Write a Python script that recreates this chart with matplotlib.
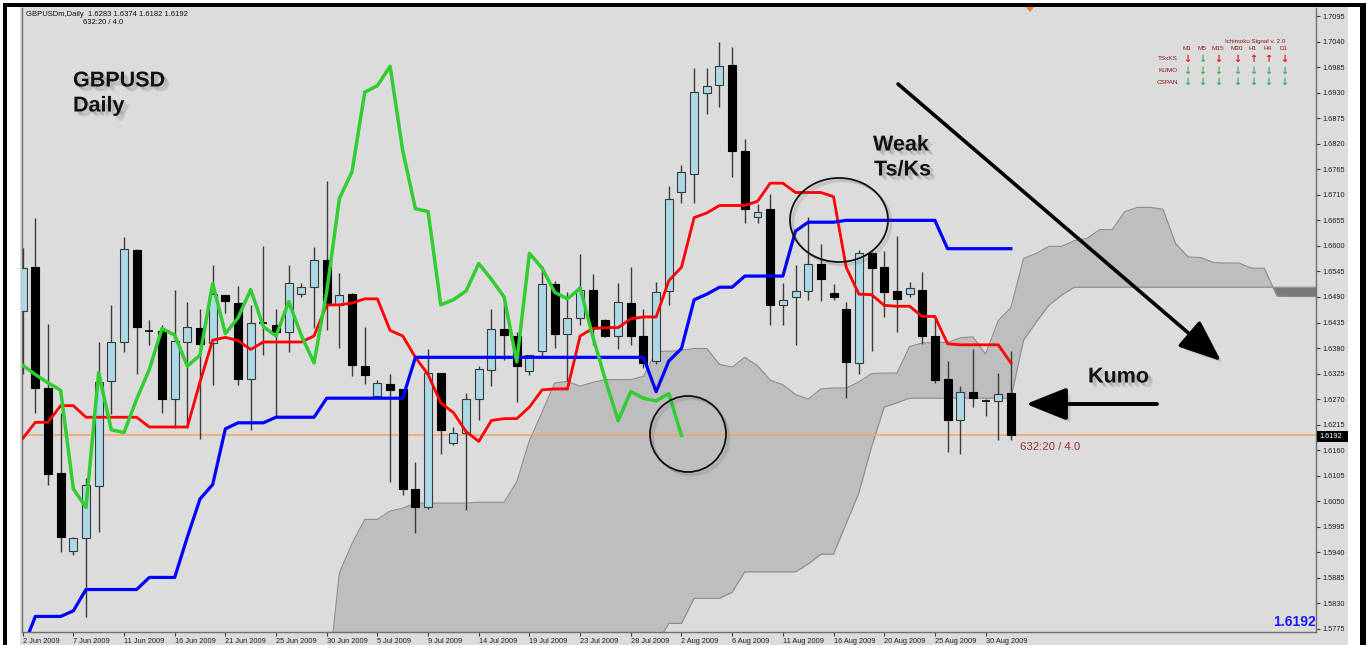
import numpy as np
import matplotlib.pyplot as plt
from matplotlib import patheffects as pe
from matplotlib.patches import Rectangle, Ellipse, Polygon

W, H = 1367, 645

# daily GBPUSD bars, 2 Jun 2009 .. 1 Sep 2009 (index 0..78)
opens = [1.6460, 1.6554, 1.6294, 1.6111, 1.5944, 1.5971, 1.6083, 1.6309, 1.6393, 1.6591,
         1.6416, 1.6416, 1.6271, 1.6393, 1.6423, 1.6391, 1.6494, 1.6477, 1.6313, 1.6434,
         1.6430, 1.6415, 1.6496, 1.6511, 1.6570, 1.6473, 1.6496, 1.6342, 1.6277, 1.6303,
         1.6292, 1.6077, 1.6037, 1.6327, 1.6175, 1.6196, 1.6270, 1.6333, 1.6420, 1.6406,
         1.6331, 1.6373, 1.6519, 1.6410, 1.6444, 1.6506, 1.6440, 1.6406, 1.6477, 1.6406,
         1.6352, 1.6502, 1.6715, 1.6754, 1.6929, 1.6947, 1.6989, 1.6805, 1.6663, 1.6679,
         1.6473, 1.6490, 1.6502, 1.6561, 1.6498, 1.6465, 1.6348, 1.6584, 1.6554, 1.6502,
         1.6496, 1.6506, 1.6405, 1.6313, 1.6226, 1.6286, 1.6266, 1.6266, 1.6283]
highs = [1.6595, 1.6661, 1.6432, 1.6240, 1.5973, 1.6100, 1.6393, 1.6473, 1.6619, 1.6593,
         1.6440, 1.6430, 1.6505, 1.6479, 1.6464, 1.6559, 1.6494, 1.6514, 1.6472, 1.6600,
         1.6464, 1.6559, 1.6520, 1.6598, 1.6740, 1.6542, 1.6498, 1.6426, 1.6311, 1.6325,
         1.6292, 1.6134, 1.6378, 1.6327, 1.6210, 1.6284, 1.6341, 1.6465, 1.6478, 1.6415,
         1.6366, 1.6556, 1.6525, 1.6501, 1.6583, 1.6539, 1.6443, 1.6521, 1.6554, 1.6465,
         1.6523, 1.6729, 1.6775, 1.6984, 1.6984, 1.7039, 1.7028, 1.6830, 1.6690, 1.6712,
         1.6521, 1.6558, 1.6663, 1.6605, 1.6517, 1.6480, 1.6591, 1.6587, 1.6589, 1.6622,
         1.6523, 1.6544, 1.6445, 1.6352, 1.6299, 1.6379, 1.6270, 1.6327, 1.6374]
lows = [1.6324, 1.6241, 1.6085, 1.5941, 1.5934, 1.5801, 1.5984, 1.6237, 1.6372, 1.6324,
        1.6386, 1.6240, 1.6208, 1.6208, 1.6184, 1.6300, 1.6455, 1.6300, 1.6204, 1.6365,
        1.6232, 1.6372, 1.6490, 1.6423, 1.6419, 1.6380, 1.6320, 1.6303, 1.6275, 1.6092,
        1.6064, 1.5982, 1.6034, 1.6152, 1.6171, 1.6031, 1.6226, 1.6298, 1.6354, 1.6264,
        1.6322, 1.6363, 1.6381, 1.6308, 1.6430, 1.6387, 1.6404, 1.6379, 1.6387, 1.6337,
        1.6346, 1.6472, 1.6692, 1.6692, 1.6885, 1.6899, 1.6748, 1.6649, 1.6649, 1.6429,
        1.6429, 1.6387, 1.6484, 1.6481, 1.6484, 1.6272, 1.6325, 1.6373, 1.6447, 1.6415,
        1.6491, 1.6389, 1.6305, 1.6157, 1.6152, 1.6253, 1.6234, 1.6182, 1.6182]
closes = [1.6552, 1.6294, 1.6109, 1.5973, 1.5970, 1.6085, 1.6307, 1.6393, 1.6593, 1.6425,
          1.6416, 1.6271, 1.6395, 1.6425, 1.6389, 1.6496, 1.6481, 1.6313, 1.6434, 1.6434,
          1.6415, 1.6520, 1.6511, 1.6570, 1.6473, 1.6494, 1.6343, 1.6323, 1.6305, 1.6289,
          1.6077, 1.6037, 1.6327, 1.6204, 1.6198, 1.6270, 1.6334, 1.6422, 1.6408, 1.6341,
          1.6365, 1.6519, 1.6411, 1.6445, 1.6506, 1.6426, 1.6406, 1.6480, 1.6407, 1.6348,
          1.6501, 1.6702, 1.6760, 1.6931, 1.6945, 1.6987, 1.6805, 1.6680, 1.6674, 1.6473,
          1.6484, 1.6503, 1.6562, 1.6528, 1.6490, 1.6350, 1.6584, 1.6552, 1.6500, 1.6486,
          1.6509, 1.6405, 1.6311, 1.6224, 1.6286, 1.6272, 1.6266, 1.6282, 1.6192]

tenkan = [1.6185, 1.6220, 1.6220, 1.6256, 1.6256, 1.6231, 1.6231, 1.6231, 1.6231, 1.6231,
          1.6210, 1.6210, 1.6210, 1.6210, 1.6307, 1.6397, 1.6403, 1.6396, 1.6377, 1.6393,
          1.6393, 1.6393, 1.6393, 1.6406, 1.6473, 1.6473, 1.6477, 1.6486, 1.6486, 1.6418,
          1.6406, 1.6360, 1.6323, 1.6262, 1.6241, 1.6200, 1.6179, 1.6224, 1.6228, 1.6228,
          1.6253, 1.6290, 1.6292, 1.6292, 1.6406, 1.6422, 1.6424, 1.6424, 1.6443, 1.6447,
          1.6447, 1.6525, 1.6554, 1.6661, 1.6671, 1.6687, 1.6687, 1.6687, 1.6696, 1.6735,
          1.6735, 1.6715, 1.6715, 1.6715, 1.6706, 1.6554, 1.6496, 1.6495, 1.6472, 1.6470,
          1.6470, 1.6448, 1.6448, 1.6389, 1.6387, 1.6387, 1.6387, 1.6387, 1.6348]
kijun = [1.5732, 1.5802, 1.5802, 1.5802, 1.5814, 1.5860, 1.5860, 1.5860, 1.5860, 1.5860,
         1.5886, 1.5886, 1.5886, 1.5973, 1.6055, 1.6086, 1.6206, 1.6219, 1.6219, 1.6219,
         1.6231, 1.6231, 1.6231, 1.6231, 1.6272, 1.6272, 1.6272, 1.6272, 1.6272, 1.6272,
         1.6272, 1.6360, 1.6360, 1.6360, 1.6360, 1.6360, 1.6360, 1.6360, 1.6360, 1.6360,
         1.6360, 1.6360, 1.6360, 1.6360, 1.6360, 1.6360, 1.6360, 1.6360, 1.6360, 1.6360,
         1.6286, 1.6352, 1.6379, 1.6484, 1.6496, 1.6511, 1.6511, 1.6535, 1.6535, 1.6535,
         1.6535, 1.6632, 1.6651, 1.6651, 1.6651, 1.6655, 1.6655, 1.6655, 1.6655, 1.6655,
         1.6655, 1.6655, 1.6655, 1.6594, 1.6594, 1.6594, 1.6594, 1.6594, 1.6594]

# cloud, bar index 24..104 (already shifted 26 bars ahead)
span_a = [1.5640, 1.5896, 1.5959, 1.6011, 1.6011, 1.6029, 1.6035, 1.6046, 1.6046, 1.6046,
          1.6046, 1.6046, 1.6048, 1.6048, 1.6048, 1.6092, 1.6181, 1.6242, 1.6305, 1.6308,
          1.6298, 1.6306, 1.6312, 1.6312, 1.6312, 1.6319, 1.6373, 1.6373, 1.6375, 1.6379,
          1.6379, 1.6345, 1.6339, 1.6360, 1.6342, 1.6311, 1.6301, 1.6280, 1.6270, 1.6292,
          1.6294, 1.6294, 1.6307, 1.6325, 1.6326, 1.6326, 1.6383, 1.6391, 1.6392, 1.6392,
          1.6402, 1.6404, 1.6367, 1.6439, 1.6467, 1.6573, 1.6584, 1.6599, 1.6599, 1.6611,
          1.6616, 1.6635, 1.6635, 1.6674, 1.6683, 1.6683, 1.6679, 1.6605, 1.6576, 1.6575,
          1.6564, 1.6563, 1.6563, 1.6552, 1.6552, 1.6492, 1.6491, 1.6491, 1.6491, 1.6491,
          1.6471]
span_b = [1.5600] * 26 + [
          1.5741, 1.5787, 1.5787, 1.5841, 1.5841, 1.5841, 1.5854, 1.5898, 1.5898, 1.5898,
          1.5898, 1.5898, 1.5915, 1.5936, 1.5936, 1.6002, 1.6068, 1.6167, 1.6253, 1.6262,
          1.6272, 1.6272, 1.6272, 1.6272, 1.6272, 1.6272, 1.6272, 1.6272, 1.6272, 1.6397,
          1.6436, 1.6472, 1.6494] + [1.6511] * 22

date_ticks = ['2 Jun 2009', '7 Jun 2009', '11 Jun 2009', '16 Jun 2009', '21 Jun 2009',
              '25 Jun 2009', '30 Jun 2009', '5 Jul 2009', '9 Jul 2009', '14 Jul 2009',
              '19 Jul 2009', '23 Jul 2009', '28 Jul 2009', '2 Aug 2009', '6 Aug 2009',
              '11 Aug 2009', '16 Aug 2009', '20 Aug 2009', '25 Aug 2009', '30 Aug 2009']

signal_cols = ['M1', 'M5', 'M15', 'M30', 'H1', 'H4', 'D1']
signal_rows = ['TSxKS', 'KUMO', 'CSPAN']
signal_dirs = [['dr', 'dg', 'dr', 'dr', 'ur', 'ur', 'dr'],
               ['dg'] * 7,
               ['dg'] * 7]

o, h, l, c = map(np.array, (opens, highs, lows, closes))
idx = np.arange(len(c))
cloud_x = np.arange(24, 24 + len(span_a))
sa, sb = np.array(span_a), np.array(span_b)

fig = plt.figure(figsize=(W / 100, H / 100), dpi=100, facecolor='white')

# background frame (pixel coords)
bg = fig.add_axes([0, 0, 1, 1], zorder=-5)
bg.set_xlim(0, W)
bg.set_ylim(H, 0)
bg.axis('off')
bg.add_patch(Rectangle((20, 7), 1328, H - 7, fc='#dcdcdc', ec='none'))
bg.add_patch(Rectangle((3, 3), W - 5, 4, fc='black', ec='none'))
bg.add_patch(Rectangle((3, 3), 4, H, fc='black', ec='none'))
bg.add_patch(Rectangle((1360, 3), 6, H, fc='black', ec='none'))

ax = fig.add_axes([22 / W, (H - 632) / H, (1316 - 22) / W, (632 - 8) / H])
ax.set_facecolor('#dcdcdc')

# kumo
ax.fill_between(cloud_x, sa, sb, where=sa >= sb, interpolate=True,
                color='#bebebe', lw=0, zorder=1)
ax.fill_between(cloud_x, sa, sb, where=sa < sb, interpolate=True,
                color='#7a7a7a', lw=0, zorder=1)
ax.plot(cloud_x, sa, color='#8c8c8c', lw=0.8, zorder=1.5)
ax.plot(cloud_x, sb, color='#8c8c8c', lw=0.8, zorder=1.5)

ax.axhline(c[-1], color='#f4a460', lw=1.1, zorder=2)

# candles
up = c > o
doji = np.isclose(c, o)
ax.vlines(idx, l, h, color='#3a3a3a', lw=1, zorder=3)
body_lo = np.minimum(o, c)
body_h = np.abs(c - o)
ax.bar(idx[up & ~doji], body_h[up & ~doji], 0.63, bottom=body_lo[up & ~doji],
       color='#add8e6', edgecolor='#3a3a3a', lw=0.8, zorder=4)
ax.bar(idx[~up & ~doji], body_h[~up & ~doji], 0.63, bottom=body_lo[~up & ~doji],
       color='black', edgecolor='black', lw=0.8, zorder=4)
ax.hlines(c[doji], idx[doji] - 0.32, idx[doji] + 0.32, color='black', lw=1.2, zorder=4)

# ichimoku lines
ax.plot(idx, tenkan, color='#ff0000', lw=2, zorder=5)
ax.plot(idx, kijun, color='#0000ff', lw=2.3, zorder=5)
ax.plot(idx[26:] - 26, c[26:], color='#32cd32', lw=2.5, zorder=5)

ax.set_xlim(-0.05, 102.08)
ax.set_ylim(1.57685, 1.71123)

ax.yaxis.tick_right()
ax.set_yticks(np.arange(1.5775, 1.7096, 0.0055))
ax.set_yticklabels(['%.4f' % v for v in np.arange(1.5775, 1.7096, 0.0055)])
ax.set_xticks(np.arange(0, 80, 4))
ax.set_xticklabels(date_ticks)
for t in ax.get_xticklabels():
    t.set_ha('left')
ax.tick_params(axis='both', length=3, width=0.8, color='#404040', labelsize=5.3,
               labelcolor='#202020', pad=1.5)
for s in ['left', 'bottom', 'right']:
    ax.spines[s].set_color('#707070')
    ax.spines[s].set_linewidth(1)
ax.spines['top'].set_visible(False)
for t in ax.get_xticklabels() + ax.get_yticklabels():
    t.set_family('Liberation Sans')

# overlay for annotations (pixel coords)
ov = fig.add_axes([0, 0, 1, 1], zorder=5)
ov.set_xlim(0, W)
ov.set_ylim(H, 0)
ov.axis('off')
ov.patch.set_alpha(0)

# soft drop shadow: a few faint offset copies
soft = [pe.SimplePatchShadow(offset=(d, -d), shadow_rgbFace='0.3', alpha=0.12)
        for d in (1.5, 2.5, 3.5)] + [pe.Normal()]
soft_line = [pe.SimpleLineShadow(offset=(d, -d), shadow_color='0.3', alpha=0.15)
             for d in (1.5, 2.5)] + [pe.Normal()]

big = dict(family='Liberation Sans', fontweight='bold', fontsize=15.5, color='#111111',
           path_effects=soft)
ov.text(73, 81, 'GBPUSD', va='center', ha='left', **big)
ov.text(73, 106, 'Daily', va='center', ha='left', **big)
ov.text(873, 145, 'Weak', va='center', ha='left', **big)
ov.text(874, 170, 'Ts/Ks', va='center', ha='left', **big)
ov.text(1088, 377, 'Kumo', va='center', ha='left', **big)

ov.annotate('', xy=(1221, 361), xytext=(898, 84),
            arrowprops=dict(arrowstyle='-|>,head_length=2.6,head_width=1.05', color='black',
                            lw=2.6, shrinkA=0, shrinkB=0, mutation_scale=10,
                            path_effects=soft))
ov.annotate('', xy=(1026, 404), xytext=(1157, 404),
            arrowprops=dict(arrowstyle='-|>,head_length=2.5,head_width=1.0', color='black',
                            lw=2.8, shrinkA=0, shrinkB=0, mutation_scale=10,
                            path_effects=soft))

for cx, cy, rx, ry in [(688, 434, 38, 38), (839, 220, 49, 42)]:
    ov.add_patch(Ellipse((cx, cy), 2 * rx, 2 * ry, fill=False, ec='#111111', lw=1.3,
                         path_effects=soft_line))

small = dict(family='Liberation Sans', fontsize=5.5, color='#111111', va='center')
ov.text(26, 15, 'GBPUSDm,Daily  1.6283 1.6374 1.6182 1.6192', ha='left', **small)
ov.text(83, 23, '632:20 / 4.0', ha='left', **small)
ov.text(1020, 447, '632:20 / 4.0', ha='left', va='center', family='Liberation Sans',
        fontsize=8.2, color='#a03030')
ov.text(1316, 622, '1.6192', ha='right', va='center', family='Liberation Sans',
        fontweight='bold', fontsize=10, color='#1a1aff')

ov.add_patch(Rectangle((1317, 430.5), 31, 11, fc='black', ec='none'))
ov.text(1319, 436, '1.6192', ha='left', va='center', family='Liberation Sans',
        fontsize=5.3, color='white')
ov.add_patch(Polygon([(1026, 7), (1034, 7), (1030, 12)], closed=True, fc='#f08020', ec='none'))

# signal table
red, dred, green = '#e8141a', '#8b1a1a', '#3cb060'
col_x = [1187, 1202, 1218, 1237, 1253, 1268, 1284]
row_y = [59, 71, 82]
ov.text(1255, 42, 'Ichimoku Signal v. 2.0', ha='center', va='center',
        family='Liberation Sans', fontsize=4.5, color=dred)
for x, name in zip(col_x, signal_cols):
    ov.text(x, 49, name, ha='center', va='center', family='Liberation Sans',
            fontsize=4.6, color=dred)
for y, name, dirs in zip(row_y, signal_rows, signal_dirs):
    ov.text(1178, y, name, ha='right', va='center', family='Liberation Sans',
            fontsize=4.6, color=dred)
    for x, d in zip(col_x, dirs):
        ov.text(x, y, '\u2193' if d[0] == 'd' else '\u2191', ha='center', va='center',
                fontsize=7, fontweight='bold', color=red if d[1] == 'r' else green)

fig.savefig('out.png', dpi=100, facecolor='white')
